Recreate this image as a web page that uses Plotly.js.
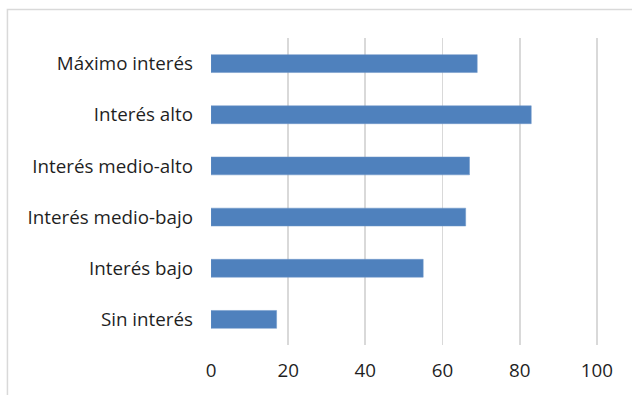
<!DOCTYPE html>
<html><head><meta charset="utf-8">
<script src="https://cdn.plot.ly/plotly-3.0.1.min.js"></script>
<style>html,body{margin:0;padding:0;background:#fff;}#chart{width:632px;height:395px;}</style>
</head><body><div id="chart"></div>
<script>
const categories = ["Sin interés","Interés bajo","Interés medio-bajo","Interés medio-alto","Interés alto","Máximo interés"];
const values = [17,55,66,67,83,69];
const tickVals = [0,20,40,60,80,100];

const data = [{
  type:'bar', orientation:'h', y:categories, x:values,
  marker:{color:'#4f81bd', line:{color:'#6f97c9', width:0.5}},
  width:0.35, hoverinfo:'x+y'
}];
const layout = {
  width:632, height:395,
  margin:{l:211, r:34, t:38, b:50},
  paper_bgcolor:'#fff', plot_bgcolor:'#fff',
  font:{family:'"Open Sans", "Noto Sans", sans-serif', size:18.8, color:'#1f1f1f'},
  showlegend:false,
  xaxis:{range:[0,100.3], tickvals:tickVals, showgrid:true, gridcolor:'#d9d9d9', gridwidth:1.8,
         zeroline:false, showline:false, ticks:'', ticklabelstandoff:12, fixedrange:true},
  yaxis:{showgrid:false, zeroline:false, showline:false, ticks:'', ticklabelstandoff:17,
         fixedrange:true, automargin:false},
  shapes:[{type:'rect', xref:'paper', yref:'paper', x0:-0.526, x1:1.3, y0:-0.3, y1:1.0928,
           line:{color:'#d9d9d9', width:1.5}, fillcolor:'rgba(0,0,0,0)', layer:'below'}]
};
Plotly.newPlot('chart', data, layout, {displayModeBar:false, staticPlot:true});
</script></body></html>
